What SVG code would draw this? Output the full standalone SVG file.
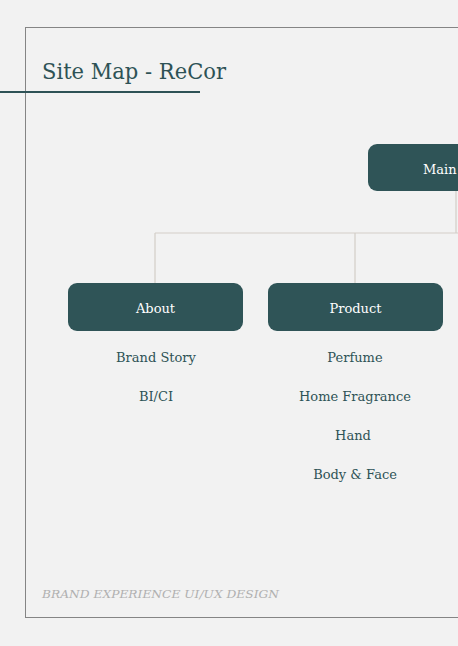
<svg xmlns="http://www.w3.org/2000/svg" width="458" height="646" viewBox="0 0 458 646">
<style>
.node{fill:#2f5457;}
.nt{font-family:"DejaVu Serif","Liberation Serif",serif;font-size:13px;fill:#ffffff;text-anchor:middle;}
.it{font-family:"DejaVu Serif","Liberation Serif",serif;font-size:13px;fill:#2e5256;text-anchor:middle;}
.con{stroke:#d3cec7;stroke-width:1.2;fill:none;}
</style>
<rect x="0" y="0" width="458" height="646" fill="#f2f2f2"/>
<rect x="25.5" y="27.5" width="450" height="590" fill="none" stroke="#858585" stroke-width="1"/>
<text x="42" y="79" font-family="DejaVu Serif, Liberation Serif, serif" font-size="21.5" fill="#2e5256" textLength="184" lengthAdjust="spacingAndGlyphs">Site Map - ReCor</text>
<line x1="0" y1="92" x2="200" y2="92" stroke="#2e5256" stroke-width="2"/>
<g id="connectors">
<path class="con" d="M456 191 V233 M155 233 H458 M155 233 V283 M355 233 V283"/>
</g>
<g id="main">
<rect class="node" x="368" y="144" width="176" height="47" rx="9"/>
<text class="nt" x="423" y="174" style="text-anchor:start">Main</text>
</g>
<g id="about">
<rect class="node" x="68" y="283" width="175" height="48" rx="9"/>
<text class="nt" x="155.5" y="313">About</text>
</g>
<g id="product">
<rect class="node" x="268" y="283" width="175" height="48" rx="9"/>
<text class="nt" x="355.5" y="313">Product</text>
</g>
<g id="brand-story"><text class="it" x="156" y="362">Brand Story</text></g>
<g id="bici"><text class="it" x="156" y="401">BI/CI</text></g>
<g id="perfume"><text class="it" x="355" y="362">Perfume</text></g>
<g id="home-fragrance"><text class="it" x="355" y="401">Home Fragrance</text></g>
<g id="hand"><text class="it" x="353" y="440">Hand</text></g>
<g id="body-face"><text class="it" x="355" y="479">Body &amp; Face</text></g>
<text x="42" y="598" font-family="DejaVu Serif, Liberation Serif, serif" font-style="italic" font-size="11.5" fill="#b0b0b0" textLength="237" lengthAdjust="spacingAndGlyphs">BRAND EXPERIENCE UI/UX DESIGN</text>
</svg>
